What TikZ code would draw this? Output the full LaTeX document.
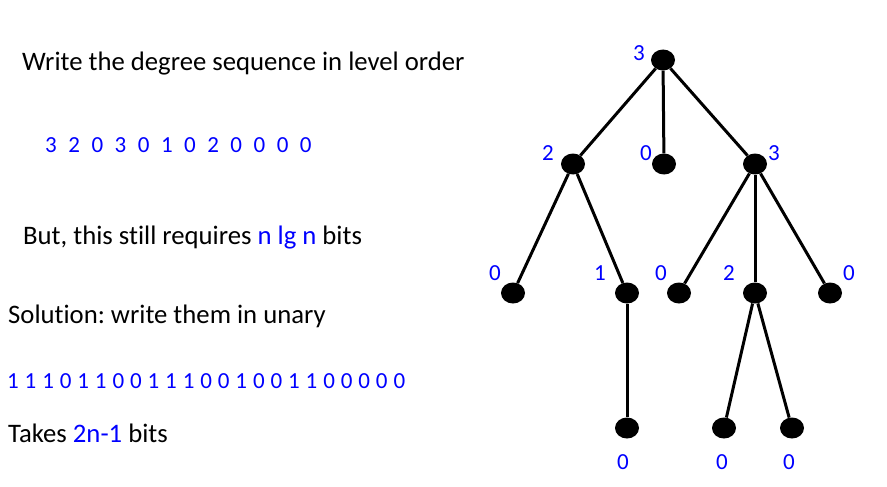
\documentclass[tikz,border=0pt]{standalone}
\usepackage{fontspec}
\setmainfont{Carlito}[Ligatures=NoCommon]
\usetikzlibrary{shapes.geometric}
\frenchspacing

\begin{document}
\begin{tikzpicture}[x=1pt,y=-1pt,
vertex/.style={ellipse,fill=black,minimum width=24pt,minimum height=21pt,inner sep=0pt},
edge/.style={line width=3pt},
deg/.style={blue,inner sep=0pt,font=\fontsize{23}{27}\selectfont},
line/.style={anchor=base west,inner sep=0pt,font=\fontsize{26.7}{32}\selectfont}]
% The frame
\useasboundingbox (0,0) rectangle (887,487);
% The text on the left
\node[line] (t1) at (22,71) {Write the degree sequence in level order};
\node[line,blue,font=\fontsize{23}{27}\selectfont] (t2) at (45,152)
  {\spaceskip=11.5pt 3 2 0 3 0 1 0 2 0 0 0 0};
\node[line] (t3) at (23,244) {But, this still requires \textcolor{blue}{n lg n} bits};
\node[line] (t4) at (8,323) {Solution: write them in unary};
\node[line,blue,font=\fontsize{23}{27}\selectfont] (t5) at (7,388)
  {\spaceskip=5.9pt 1 1 1 0 1 1 0 0 1 1 1 0 0 1 0 0 1 1 0 0 0 0 0};
\node[line] (t6) at (8,442) {Takes \textcolor{blue}{2n-1} bits};
% The vertices
\node[vertex] (r) at (663,60) {};
\node[vertex] (a) at (573,164) {};
\node[vertex] (b) at (664,164) {};
\node[vertex] (c) at (755,164) {};
\node[vertex] (aa) at (513,293) {};
\node[vertex] (ab) at (627,293) {};
\node[vertex] (ca) at (679,293) {};
\node[vertex] (cb) at (755,293) {};
\node[vertex] (cc) at (830,293) {};
\node[vertex] (aba) at (627,428) {};
\node[vertex] (cba) at (724,428) {};
\node[vertex] (cbb) at (792,428) {};
% The edges
\foreach \p/\q in {r/a,r/b,r/c,a/aa,a/ab,c/ca,c/cb,c/cc,ab/aba,cb/cba,cb/cbb}
  \draw[edge] (\p) -- (\q);
% The degrees
\node[deg] (dr) at (639,53) {3};
\node[deg] (da) at (548,153) {2};
\node[deg] (db) at (646,153) {0};
\node[deg] (dc) at (774,153) {3};
\node[deg] (daa) at (495,273) {0};
\node[deg] (dab) at (600,273) {1};
\node[deg] (dca) at (661,273) {0};
\node[deg] (dcb) at (729,273) {2};
\node[deg] (dcc) at (849,273) {0};
\node[deg] (daba) at (623,462) {0};
\node[deg] (dcba) at (722,462) {0};
\node[deg] (dcbb) at (789,462) {0};
\end{tikzpicture}
\end{document}
